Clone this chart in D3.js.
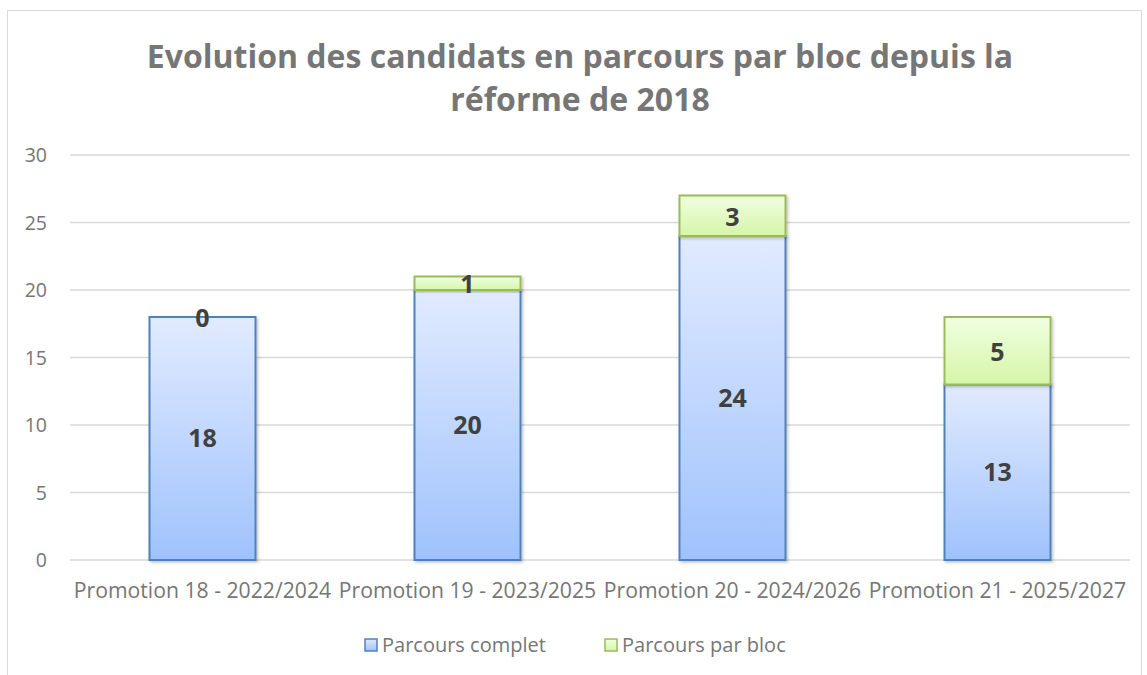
<!DOCTYPE html>
<html><head><meta charset="utf-8">
<script src="https://cdn.jsdelivr.net/npm/d3@7"></script>
<style>body{margin:0;background:#fff}svg{display:block}</style>
</head><body>
<script>
const categories = ["Promotion 18 - 2022/2024","Promotion 19 - 2023/2025","Promotion 20 - 2024/2026","Promotion 21 - 2025/2027"];
const complet = [18, 20, 24, 13];
const bloc = [0, 1, 3, 5];
const seriesNames = ["Parcours complet","Parcours par bloc"];
const yTicks = [0,5,10,15,20,25,30];
const titleLines = ["Evolution des candidats en parcours par bloc depuis la","réforme de 2018"];

const W=1147,H=675;
const font="'Open Sans', Lato, sans-serif";
const svg=d3.select("body").append("svg").attr("width",W).attr("height",H);
const defs=svg.append("defs");
const g1=defs.append("linearGradient").attr("id","gBlue").attr("x1",0).attr("y1",0).attr("x2",0).attr("y2",1);
g1.append("stop").attr("offset","0%").attr("stop-color","#e1ebff");
g1.append("stop").attr("offset","100%").attr("stop-color","#9fc2fc");
const g2=defs.append("linearGradient").attr("id","gGreen").attr("x1",0).attr("y1",0).attr("x2",0).attr("y2",1);
g2.append("stop").attr("offset","0%").attr("stop-color","#f0ffe0");
g2.append("stop").attr("offset","100%").attr("stop-color","#d6f5a9");
const f=defs.append("filter").attr("id","sh").attr("x","-10%").attr("y","-10%").attr("width","130%").attr("height","130%");
f.append("feDropShadow").attr("dx",1.5).attr("dy",1.5).attr("stdDeviation",1.5).attr("flood-color","#000").attr("flood-opacity",0.25);

svg.append("rect").attr("x",7.5).attr("y",10.5).attr("width",1134).attr("height",700).attr("fill","none").attr("stroke","#d9d9d9");

const x=d3.scaleBand().domain(categories).range([70,1130]).paddingInner(0.6).paddingOuter(0.3);
const y=d3.scaleLinear().domain([0,30]).range([560,155]);

svg.append("g").selectAll("line").data(yTicks).join("line")
 .attr("x1",70).attr("x2",1130).attr("y1",d=>y(d)).attr("y2",d=>y(d))
 .attr("stroke","#d9d9d9").attr("stroke-width",1.5);
const yAxis=d3.axisLeft(y).tickValues(yTicks).tickSize(0).tickPadding(0);
const ya=svg.append("g").attr("transform","translate(47,0)").call(yAxis);
ya.select(".domain").remove();
ya.selectAll("text").attr("font-family",font).attr("font-size",19.5).attr("fill","#767676").attr("dy","0.35em");

const stack=categories.map((c,i)=>({c,a:complet[i],b:bloc[i]}));
const bars=svg.append("g");
bars.selectAll("rect.a").data(stack).join("rect").attr("class","a")
 .attr("x",d=>x(d.c)).attr("width",x.bandwidth())
 .attr("y",d=>y(d.a)).attr("height",d=>y(0)-y(d.a))
 .attr("fill","url(#gBlue)").attr("stroke","#4f81bd").attr("stroke-width",2).attr("filter","url(#sh)");
bars.selectAll("rect.b").data(stack.filter(d=>d.b>0)).join("rect").attr("class","b")
 .attr("x",d=>x(d.c)).attr("width",x.bandwidth())
 .attr("y",d=>y(d.a+d.b)).attr("height",d=>y(d.a)-y(d.a+d.b))
 .attr("fill","url(#gGreen)").attr("stroke","#9bbb59").attr("stroke-width",2).attr("filter","url(#sh)");

const lab=svg.append("g").attr("font-family",font).attr("font-weight","bold").attr("font-size",25).attr("fill","#404040").attr("text-anchor","middle");
lab.selectAll("text.a").data(stack).join("text")
 .attr("x",d=>x(d.c)+x.bandwidth()/2).attr("y",d=>y(d.a/2)).attr("dy","0.35em").text(d=>d.a);
lab.selectAll("text.b").data(stack).join("text")
 .attr("x",d=>x(d.c)+x.bandwidth()/2).attr("y",d=>y(d.a+d.b/2)+1).attr("dy","0.35em").text(d=>d.b);

const xAxis=d3.axisBottom(x).tickSize(0).tickPadding(0);
const xa=svg.append("g").attr("transform","translate(0,591)").call(xAxis);
xa.select(".domain").remove();
xa.selectAll("text").attr("font-family",font).attr("font-size",21.2).attr("fill","#767676").attr("dy","0.35em");

svg.append("g").selectAll("text").data(titleLines).join("text")
 .attr("x",580).attr("y",(d,i)=>57+i*43).attr("dy","0.35em").attr("text-anchor","middle")
 .attr("font-family",font).attr("font-weight","bold").attr("font-size",32).attr("fill","#767676").text(d=>d);

const legX=[365,605];
const leg=svg.append("g").selectAll("g").data(seriesNames).join("g").attr("transform",(d,i)=>`translate(${legX[i]},645)`);
leg.append("rect").attr("x",0).attr("y",-6).attr("width",12).attr("height",12)
 .attr("fill",(d,i)=>i?"url(#gGreen)":"url(#gBlue)").attr("stroke",(d,i)=>i?"#9bbb59":"#4f81bd").attr("stroke-width",1.5);
leg.append("text").attr("x",17).attr("dy","0.35em").attr("font-family",font).attr("font-size",20).attr("fill","#767676").text(d=>d);
</script>
</body></html>
